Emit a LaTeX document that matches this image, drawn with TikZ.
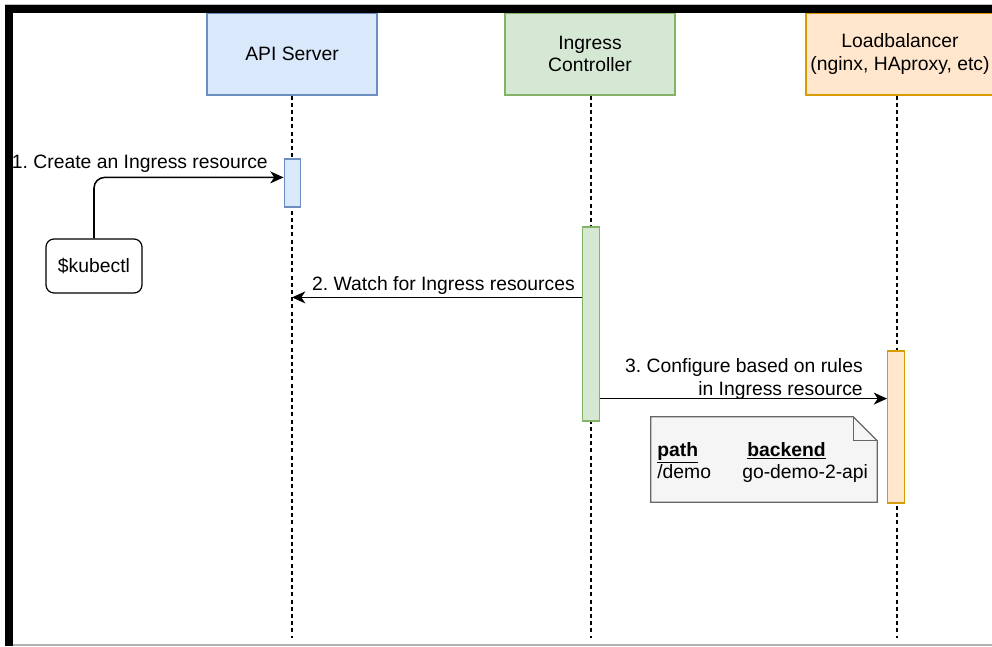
\documentclass[tikz,border=0pt]{standalone}
\usepackage{fontspec}
\setmainfont{Liberation Sans}
\usetikzlibrary{arrows.meta,positioning,calc}
\definecolor{kubeblue}{HTML}{DAE8FC}
\definecolor{kubeblueline}{HTML}{6C8EBF}
\definecolor{kubegreen}{HTML}{D5E8D4}
\definecolor{kubegreenline}{HTML}{82B366}
\definecolor{kubeorange}{HTML}{FFE6CC}
\definecolor{kubeorangeline}{HTML}{D79B00}
\definecolor{kubenote}{HTML}{F5F5F5}
\definecolor{kubenoteline}{HTML}{666666}
\newcommand\seqfont{\fontsize{14.5}{16.9}\selectfont\frenchspacing}

\begin{document}
\begin{tikzpicture}[x=0.75pt,y=-0.75pt,
  head/.style={draw,line width=0.9pt,minimum width=127.5pt,minimum height=61.5pt,align=center,font=\seqfont},
  bar/.style={draw,line width=0.9pt,minimum width=12.5pt,inner sep=0pt},
  life/.style={dash pattern=on 3pt off 2.4pt,line width=0.8pt},
  msg/.style={->,line width=1.15pt},
  lbl/.style={font=\seqfont,inner sep=0pt},
  >={Stealth[length=10pt,width=9pt,inset=3pt]}]
\useasboundingbox (0,0) rectangle (992,646);

% participants
\node[head,fill=kubeblue,draw=kubeblueline] (api) at (292,54) {API Server};
\node[head,fill=kubegreen,draw=kubegreenline] (ing) at (590,54) {Ingress\\Controller};
\node[head,fill=kubeorange,draw=kubeorangeline,minimum width=135pt] (lb) at (900,54) {Loadbalancer\\(nginx, HAproxy, etc)};

% lifelines
\coordinate (apiend) at (292,638);
\coordinate (ingend) at (591,638);
\coordinate (lbend) at (897,638);
\draw[life] (api.south) -- (apiend);
\draw[life] (ingend |- ing.south) -- (ingend);
\draw[life] (lbend |- lb.south) -- (lbend);

% activations
\node[bar,fill=kubeblue,draw=kubeblueline,minimum height=36pt] (apibar) at (292.5,183) {};
\node[bar,fill=kubegreen,draw=kubegreenline,minimum height=145.5pt] (ingbar) at (591,324) {};
\node[bar,fill=kubeorange,draw=kubeorangeline,minimum height=114pt] (lbbar) at (896,427) {};

\node[draw,line width=0.9pt,rounded corners=6pt,minimum width=72pt,minimum height=40.5pt,font=\seqfont] (kubectl) at (94,266) {\$kubectl};

% messages
\draw[msg,rounded corners=8pt] (kubectl.north) |- ($(apibar.north west)+(0,19)$);
\node[lbl,anchor=base east] (l1) at (268,168) {1. Create an Ingress resource};
\draw[msg] ($(ingbar.north west)+(0,71)$) coordinate (w2) -- (w2 -| apiend);
\node[lbl,anchor=base east] (l2) at (575,290) {2. Watch for Ingress resources};
\draw[msg] ($(ingbar.south east)+(0,-23)$) coordinate (w3) -- (w3 -| lbbar.west);
\node[lbl,anchor=base east,align=right] (l3) at (863,395) {3. Configure based on rules\\in Ingress resource};

% note
\node[minimum width=169.5pt,minimum height=63.75pt] (note) at (764,459.5) {};
\draw[fill=kubenote,draw=kubenoteline,line width=0.9pt] (note.south west) -- (note.north west) -- ([xshift=-18pt]note.north east) -- ([yshift=-18pt]note.north east) -- (note.south east) -- cycle;
\draw[draw=kubenoteline,line width=0.9pt] ([xshift=-18pt]note.north east) |- ([yshift=-18pt]note.north east);
\node[lbl,anchor=base west] (pathhd) at (657,456) {\textbf{\underline{path}}};
\node[lbl,anchor=base west] (backhd) at (747,456) {\textbf{\underline{backend}}};
\node[lbl,anchor=base west] (pathval) at (657,478) {/demo};
\node[lbl,anchor=base west] (backval) at (742,478) {go-demo-2-api};

% frame
\draw[gray!50,line width=0.75pt] (5,4) -- (992,4);
\draw[gray!60,line width=1pt] (13,645) -- (992,645);
\fill (5,5) rectangle (13,646);
\fill (5,5) rectangle (992,13);
\end{tikzpicture}
\end{document}
